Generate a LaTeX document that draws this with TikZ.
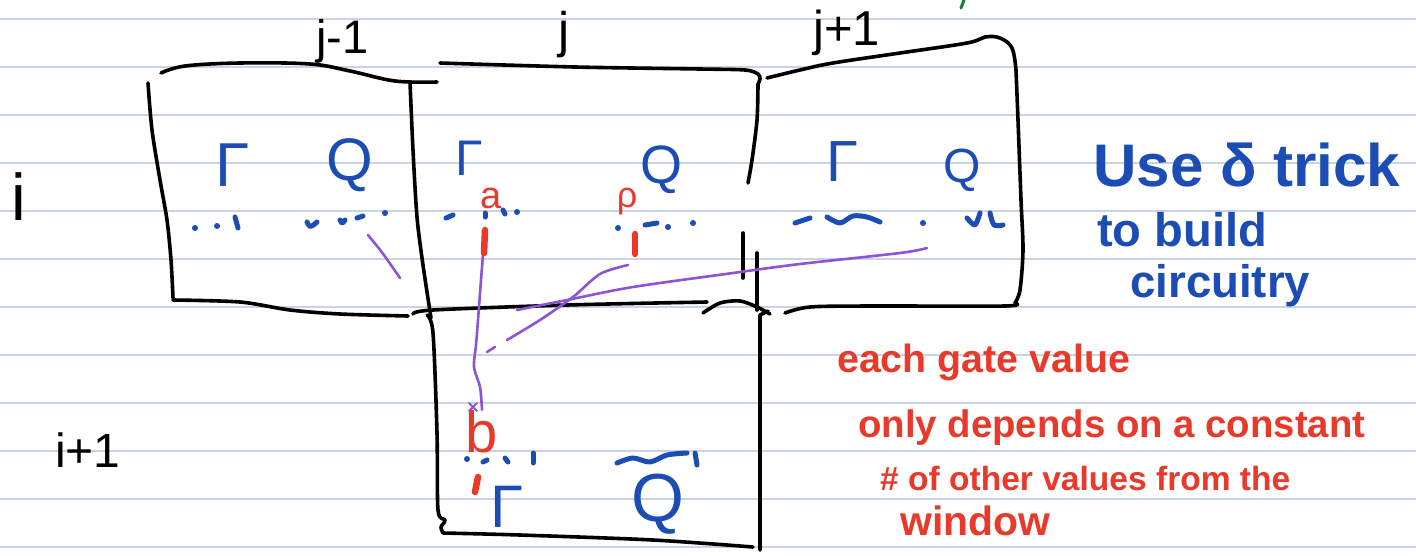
\documentclass[tikz,border=0pt]{standalone}
\usepackage{fontspec}
\setmainfont{Liberation Sans}
\usepackage{graphicx}
\definecolor{rulecol}{HTML}{C9D4E3}
\definecolor{inkblue}{HTML}{1B4DB5}
\definecolor{redink}{HTML}{E8392A}
\definecolor{purp}{HTML}{8C55D8}
\definecolor{greenink}{HTML}{1E7B32}
\newcommand\fitw[2]{\resizebox{#1pt}{!}{\bfseries #2}}
\newcommand\fsz[1]{\fontsize{#1}{#1}\selectfont}
\begin{document}
\begin{tikzpicture}[x=1pt,y=-1pt,
  ruleline/.style={draw=rulecol,line width=1.8pt},
  handbox/.style={draw=black,line width=3.6pt,line cap=round,line join=round},
  inkline/.style={draw=inkblue,line width=5pt,line cap=round,line join=round},
  inkdot/.style={fill=inkblue},
  purline/.style={draw=purp,line width=2.6pt,line cap=round,line join=round},
  rtick/.style={draw=redink,line width=6.5pt,line cap=round},
  blab/.style={inner sep=0pt,text=black},
  btxt/.style={inner sep=0pt,text=inkblue},
  rtxt/.style={inner sep=0pt,text=redink},
]
\fill[white] (0,0) rectangle (1416,555);
\useasboundingbox (0,0) rectangle (1416,555);
% ruled paper
\foreach \k in {0,...,11} \draw[ruleline] (0,18.7+48*\k) -- (1416,18.7+48*\k);
% green mark
\draw[draw=greenink,line width=3pt,line cap=round] (964,0) -- (961,8);

% ---- boxes ----
% box j-1
\draw[handbox] plot[smooth,tension=0.6] coordinates {(161,73) (185,66) (240,63) (310,64) (350,71) (395,81) (437,82)};
\draw[handbox] plot[smooth] coordinates {(148,83) (152,130) (160,180) (167,220) (171,260) (173,298)};
\draw[handbox] plot[smooth] coordinates {(173,300) (240,302) (290,310) (340,314) (408,316)};
% shared edge j-1 / j
\draw[handbox] plot[smooth] coordinates {(410,82) (413,150) (417,217) (423,265) (431,318)};
% box j
\draw[handbox] plot[smooth,tension=0.5] coordinates {(440,63) (575,67) (700,69) (745,70) (758,74) (760,79) (758,84)};
\draw[handbox] plot[smooth] coordinates {(758,84) (757,120) (752,160) (748,183)};
\draw[handbox] (743,233) -- (743,278);
\draw[handbox] (757,253) -- (757,310);
% bottom of box j / top of lower box
\draw[handbox] plot[smooth] coordinates {(413,314) (433,310) (567,305) (707,302)};
\draw[handbox] plot[smooth] coordinates {(703,313) (720,303) (740,301) (757,307) (770,314)};
% box j+1
\draw[handbox] plot[smooth,tension=0.6] coordinates {(767,78) (800,70) (833,63) (900,53) (967,43) (985,37) (1000,38) (1012,48) (1016,70)};
\draw[handbox] plot[smooth] coordinates {(1016,70) (1018,120) (1021,200) (1023,250) (1020,290) (1015,303)};
\draw[handbox] plot[smooth] coordinates {(785,313) (810,307) (870,306) (1005,306) (1015,303)};
% lower box (i+1, j)
\draw[handbox] plot[smooth] coordinates {(427,315) (433,333) (437,433) (438,510) (445,520) (441,527) (443,533)};
\draw[handbox] plot[smooth] coordinates {(443,533) (520,535) (653,540) (753,547)};
\draw[handbox] (768,311) -- (760,315) -- (760,400) -- (760,550);

% ---- labels ----
\node[blab,font=\fsz{47},anchor=base west] (jm1) at (316,53) {j-1};
\node[blab,font=\fsz{50},anchor=base] (j0) at (564,47) {j};
\node[blab,font=\fsz{49},anchor=base west] (jp1) at (813,45) {j+1};
\node[blab,font=\fsz{66},anchor=base] (ilab) at (19,220) {i};
\node[blab,font=\fsz{48},anchor=base west] (ip1) at (55,467) {i+1};

% ---- blue symbols ----
\node[btxt,font=\fsz{62}] (G1) at (233,165) {Γ};
\node[btxt,font=\fsz{60}] (Q1) at (350,165) {Q};
\node[btxt,font=\fsz{50}] (G2) at (469,158) {Γ};
\node[btxt,font=\fsz{54}] (Q2) at (661,170) {Q};
\node[btxt,font=\fsz{58}] (G3) at (842,162) {Γ};
\node[btxt,font=\fsz{48}] (Q3) at (962,170) {Q};
\node[btxt,font=\fsz{60}] (G4) at (507,507) {Γ};
\node[btxt,font=\fsz{68}] (Q4) at (658,504) {Q};

% blue dots
\fill[inkdot] (195,228) circle (3) (217,226) circle (3) (385,213) circle (3);
\draw[inkline] (235,217) -- (238,228);
\draw[inkline] (307,222) .. controls (310,228) .. (317,222);
\draw[inkline] (340,220) .. controls (342,224) .. (345,220);
\draw[inkline] (357,218) -- (363,216);
\draw[inkline] (446,218) -- (453,215);
\draw[inkline] (485,213) -- (485,217);
\draw[inkline] (503,210) -- (505,214);
\fill[inkdot] (517,212) circle (3) (618,228) circle (3) (668,227) circle (3) (693,223) circle (3);
\draw[inkline] (645,225) -- (657,223);
\draw[inkline] (795,223) -- (810,218);
\draw[inkline] plot[smooth] coordinates {(827,217) (840,223) (853,216) (867,217) (880,222)};
\fill[inkdot] (923,223) circle (3);
\draw[inkline] plot[smooth] coordinates {(967,218) (975,225) (980,213)};
\draw[inkline] plot[smooth] coordinates {(990,213) (994,225) (1003,225)};
\fill[inkdot] (467,459) circle (3);
\draw[inkline] (483,462) -- (487,460);
\draw[inkline] (505,458) -- (508,462);
\draw[inkline] (533,453) -- (533,463);
\draw[inkline] plot[smooth] coordinates {(617,463) (633,458) (650,462) (667,455) (687,453)};
\draw[inkline] (695,453) -- (697,465);

% ---- red marks ----
\node[rtxt,font=\fsz{38},anchor=base] (a) at (491,208) {a};
\node[rtxt,font=\fsz{36},anchor=base] (rho) at (627,207) {ρ};
\node[rtxt,font=\fsz{58},anchor=base] (b) at (482,452) {b};

% ---- purple connectors ----
\coordinate (aout) at (484,242);
\coordinate (p1s) at (368,235);
\coordinate (p1e) at (400,278);
\coordinate (p3s) at (628,265);
\coordinate (p3e) at (507,340);
\coordinate (p4s) at (927,248);
\coordinate (p4e) at (517,310);
\draw[purline] (p1s) .. controls (382,252) .. (p1e);
\draw[purline] plot[smooth] coordinates {(aout) (481,280) (478,320) (476,345) (474,367) (480,387) (b.north)};
\draw[purline,line width=2pt] (469,403) -- (477,411) (477,403) -- (469,411);
\draw[purline] plot[smooth] coordinates {(p3s) (600,274) (573,297) (540,320) (p3e)};
\draw[purline] (495,347) -- (487,352);
\draw[purline] plot[smooth] coordinates {(p4s) (900,253) (800,264) (733,273) (633,287) (567,300) (p4e)};

\draw[rtick] (485,230) -- (484,253);
\draw[rtick] (635,234) -- (635,254);
\draw[rtick] (478,477) -- (475,492);

% ---- notes ----
\node[btxt,anchor=base west] (t1) at (1093,186) {\fitw{307}{Use δ trick}};
\node[btxt,anchor=base west] (t2) at (1097,246) {\fitw{170}{to build}};
\node[btxt,anchor=base west] (t3) at (1130,297) {\fitw{180}{circuitry}};
\node[rtxt,anchor=base west] (r1) at (837,372) {\fitw{293}{each gate value}};
\node[rtxt,anchor=base west] (r2) at (858,437) {\fitw{507}{only depends on a constant}};
\node[rtxt,anchor=base west] (r3) at (880,490) {\fitw{410}{\# of other values from the}};
\node[rtxt,anchor=base west] (r4) at (900,535) {\fitw{150}{window}};
\end{tikzpicture}
\end{document}
